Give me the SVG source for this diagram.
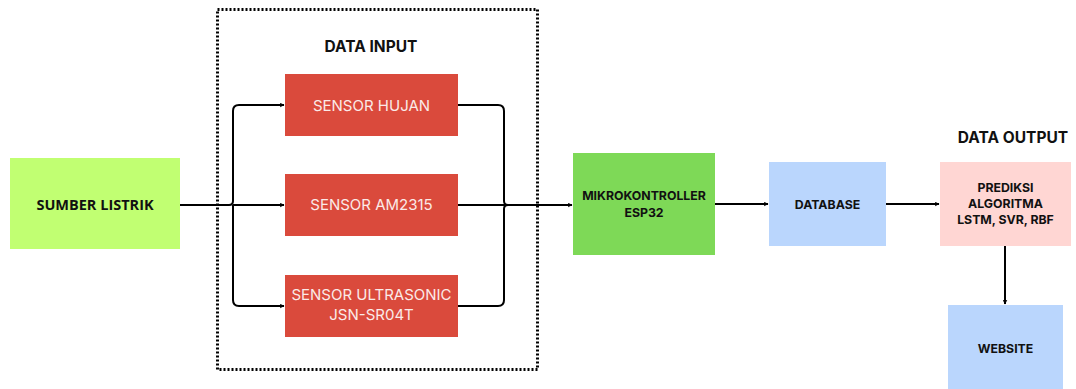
<svg xmlns="http://www.w3.org/2000/svg" width="1076" height="389" viewBox="0 0 1076 389">
  <defs>
    <marker id="arrow" viewBox="0 0 10 10" refX="9" refY="5" markerWidth="5" markerHeight="5" orient="auto" markerUnits="userSpaceOnUse">
      <path d="M0,0 L10,5 L0,10 L3,5 Z" fill="#000"/>
    </marker>
    <style>
      .lbl { font-family: Inter, "Liberation Sans", sans-serif; font-weight: 700; fill: #111; text-anchor: middle; }
      .sensor rect { fill: #DA4A3C; }
      .sensor text { font-family: Inter, "Liberation Sans", sans-serif; font-size: 15px; fill: #FBEAE8; text-anchor: middle; }
      .wire { fill: none; stroke: #000; stroke-width: 2; }
    </style>
  </defs>
  <rect width="1076" height="389" fill="#fff"/>

  <!-- input group frame -->
  <rect x="217.5" y="9.5" width="320" height="360" fill="none" stroke="#000" stroke-width="3" stroke-dasharray="2 2"/>
  <text class="lbl" x="371" y="52" font-size="15.5">DATA INPUT</text>
  <text class="lbl" x="1013" y="143" font-size="15.5">DATA OUTPUT</text>

  <g id="connectors">
    <!-- power to sensor bus -->
    <path class="wire" d="M180,205 H229 Q233,205 233,201 M233,205 V209"/>
    <path class="wire" d="M233,201 V111 Q233,105 239,105 H284" marker-end="url(#arrow)"/>
    <path class="wire" d="M233,205 H284" marker-end="url(#arrow)"/>
    <path class="wire" d="M233,209 V300 Q233,306 239,306 H284" marker-end="url(#arrow)"/>
    <!-- sensor bus to microcontroller -->
    <path class="wire" d="M458,105 H498 Q504,105 504,111 V201 Q504,205 508,205"/>
    <path class="wire" d="M458,306 H498 Q504,306 504,300 V209 Q504,205 508,205"/>
    <path class="wire" d="M458,205 H572" marker-end="url(#arrow)"/>
    <!-- data path -->
    <path class="wire" d="M715,204 H768" marker-end="url(#arrow)"/>
    <path class="wire" d="M886,204 H939" marker-end="url(#arrow)"/>
    <path class="wire" d="M1005,246 V304" marker-end="url(#arrow)"/>
  </g>

  <g id="sumber-listrik">
    <rect x="10" y="158" width="170" height="91" fill="#C1FF72"/>
    <text class="lbl" x="95" y="210" font-size="14.5" style="font-family:'Open Sans','Liberation Sans',sans-serif">SUMBER LISTRIK</text>
  </g>

  <g id="sensor-hujan" class="sensor">
    <rect x="285" y="74" width="173" height="62"/>
    <text x="371.5" y="111">SENSOR HUJAN</text>
  </g>
  <g id="sensor-am2315" class="sensor">
    <rect x="285" y="174" width="173" height="62"/>
    <text x="371.5" y="210">SENSOR AM2315</text>
  </g>
  <g id="sensor-ultrasonic" class="sensor">
    <rect x="285" y="275" width="173" height="62"/>
    <text x="371.5" y="300">SENSOR ULTRASONIC</text>
    <text x="371.5" y="320">JSN-SR04T</text>
  </g>

  <g id="mikrokontroller">
    <rect x="573" y="153" width="142" height="102" fill="#7ED957"/>
    <text class="lbl" x="644" y="200" font-size="12.3">MIKROKONTROLLER</text>
    <text class="lbl" x="644" y="217" font-size="12.3">ESP32</text>
  </g>

  <g id="database">
    <rect x="769" y="162" width="117" height="84" fill="#BAD6FD"/>
    <text class="lbl" x="827.5" y="209" font-size="12.3">DATABASE</text>
  </g>

  <g id="prediksi">
    <rect x="940" y="162" width="131" height="84" fill="#FFD6D3"/>
    <text class="lbl" x="1005.5" y="192" font-size="12.3">PREDIKSI</text>
    <text class="lbl" x="1005.5" y="208" font-size="12.3">ALGORITMA</text>
    <text class="lbl" x="1005.5" y="224" font-size="12.3">LSTM, SVR, RBF</text>
  </g>

  <g id="website">
    <rect x="948" y="305" width="115" height="90" fill="#BAD6FD"/>
    <text class="lbl" x="1005.5" y="353" font-size="12.3">WEBSITE</text>
  </g>
</svg>
